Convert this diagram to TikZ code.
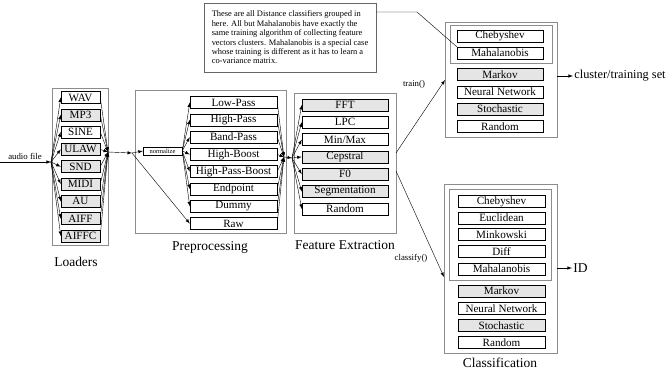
\documentclass[tikz,border=0pt]{standalone}
\usepackage{fontspec}
\setmainfont{Liberation Serif}
\tikzstyle{grupo}=[draw=black!45, line width=0.6pt]
\tikzstyle{opcion}=[draw, thin, inner sep=0pt, minimum height=0.36cm, font=\fontsize{9.5}{10}\selectfont]
\tikzstyle{gris}=[fill=black!10]
\tikzstyle{flecha}=[->, >=latex, line width=0.35pt]
\tikzstyle{titulo}=[font=\fontsize{11.5}{12}\selectfont]
\tikzstyle{etiqueta}=[font=\fontsize{7.5}{8}\selectfont, inner sep=1pt]

\begin{document}
\begin{tikzpicture}[x=0.03cm, y=-0.03cm]
	\useasboundingbox (0,0) rectangle (669,374);
	% Loaders
	\draw[grupo] (52,88) rectangle (108,245);
	\foreach \nombre/\relleno [count=\i from 0] in {WAV/white, MP3/black!10, SINE/white, ULAW/black!10, SND/black!10, MIDI/black!10, AU/black!10, AIFF/black!10, AIFFC/black!10}
		\node[opcion, fill=\relleno, minimum width=1.17cm] (load\i) at (80.5,97.5+17.3*\i) {\nombre};
	\node[etiqueta] (audio) at (25,156) {audio file};
	\coordinate (entrada) at (0,162);
	\coordinate (abanico) at (51,162);
	\draw[flecha] (entrada) -- (abanico);
	\coordinate (lsal) at (108,152);
	\foreach \i in {0,...,8} {
		\draw[flecha] (abanico) -- (load\i.west);
		\draw[flecha] (load\i.east) -- (lsal);
	}
	\node[titulo] (loaders) at (76,262) {Loaders};
	% Preprocessing
	\draw[grupo] (135,90) rectangle (286,233);
	\node[draw, thin, inner sep=0pt, minimum width=1.17cm, minimum height=0.24cm, font=\fontsize{5.5}{6}\selectfont] (norm) at (162.5,151) {normalize};
	\foreach \nombre [count=\i from 0] in {Low-Pass, High-Pass, Band-Pass, High-Boost, High-Pass-Boost, Endpoint, Dummy, Raw}
		\node[opcion, minimum width=2.61cm] (pre\i) at (233.5,102.5+17.3*\i) {\nombre};
	\coordinate (pent) at (132,153);
	\draw[flecha] (lsal) -- (pent);
	\draw[flecha] (pent) -- (norm.west);
	\draw[flecha] (pent) -- (pre7.west);
	\coordinate (psal) at (284,157);
	\foreach \i in {0,...,6}
		\draw[flecha] (norm.east) -- (pre\i.west);
	\foreach \i in {0,...,7}
		\draw[flecha] (pre\i.east) -- (psal);
	\node[titulo] (prepro) at (210,247) {Preprocessing};
	% Feature Extraction
	\draw[grupo] (294,93) rectangle (396,233);
	\foreach \nombre/\relleno [count=\i from 0] in {FFT/black!10, LPC/white, {Min/Max}/white, Cepstral/black!10, F0/black!10, Segmentation/black!10, Random/white}
		\node[opcion, fill=\relleno, minimum width=2.58cm] (fe\i) at (345,105+17.3*\i) {\nombre};
	\coordinate (fent) at (292,158);
	\draw[flecha] (psal) -- (fent);
	\foreach \i in {0,...,6}
		\draw[flecha] (fent) -- (fe\i.west);
	\node[titulo] (extrac) at (345,245) {Feature Extraction};
	% note
	\node[draw=black!60, thin, align=left, inner sep=0pt, minimum width=5.16cm, minimum height=2.07cm, font=\fontsize{7.2}{8}\selectfont] (nota) at (290,37.5) {These are all Distance classifiers grouped in\\here. All but Mahalanobis have exactly the\\same training algorithm of collecting feature\\vectors clusters. Mahalanobis is a special case\\whose training is different as it has to learn a\\co-variance matrix.};
	% training
	\draw[grupo] (445,22) rectangle (557,137);
	\draw[grupo] (450,25) rectangle (552,63);
	\foreach \nombre/\relleno/\y [count=\i from 0] in {Chebyshev/white/36, Mahalanobis/white/53, Markov/black!10/74.5, Neural Network/white/91.8, Stochastic/black!10/109.1, Random/white/126.4}
		\node[opcion, fill=\relleno, minimum width=2.58cm] (tr\i) at (500,\y) {\nombre};
	\coordinate (nsal) at (nota.east |- 0,12);
	\coordinate (quiebre) at (417,12);
	\draw[line width=0.35pt] (nsal) -- (quiebre) -- (tr1.north west);
	\coordinate (fsal1) at (396,153);
	\coordinate (tent) at (445,80);
	\draw[flecha] (fsal1) -- (tent);
	\node[etiqueta] (train) at (414,84) {train()};
	\coordinate (tsal) at (557,76);
	\node[anchor=west, font=\fontsize{10.5}{11}\selectfont, inner sep=1pt] (cluster) at (573,76) {cluster/training set};
	\draw[flecha] (tsal) -- (cluster.west);
	% classification
	\draw[grupo] (444,184) rectangle (557,353);
	\draw[grupo] (449,189) rectangle (551,280);
	\foreach \nombre/\relleno/\y [count=\i from 0] in {Chebyshev/white/201.5, Euclidean/white/217.9, Minkowski/white/234.3, Diff/white/251.6, Mahalanobis/white/269, Markov/black!10/291, Neural Network/white/308.2, Stochastic/black!10/325.4, Random/white/342.6}
		\node[opcion, fill=\relleno, minimum width=2.61cm] (cl\i) at (501.5,\y) {\nombre};
	\coordinate (fsal2) at (396,171);
	\coordinate (cent) at (444,277);
	\draw[flecha] (fsal2) -- (cent);
	\node[etiqueta] (classify) at (411,258) {classify()};
	\coordinate (csal) at (557,268);
	\node[anchor=west, titulo, inner sep=1pt] (id) at (572,268) {ID};
	\draw[flecha] (csal) -- (id.west);
	\node[titulo] (clasif) at (500,363) {Classification};
\end{tikzpicture}
\end{document}
